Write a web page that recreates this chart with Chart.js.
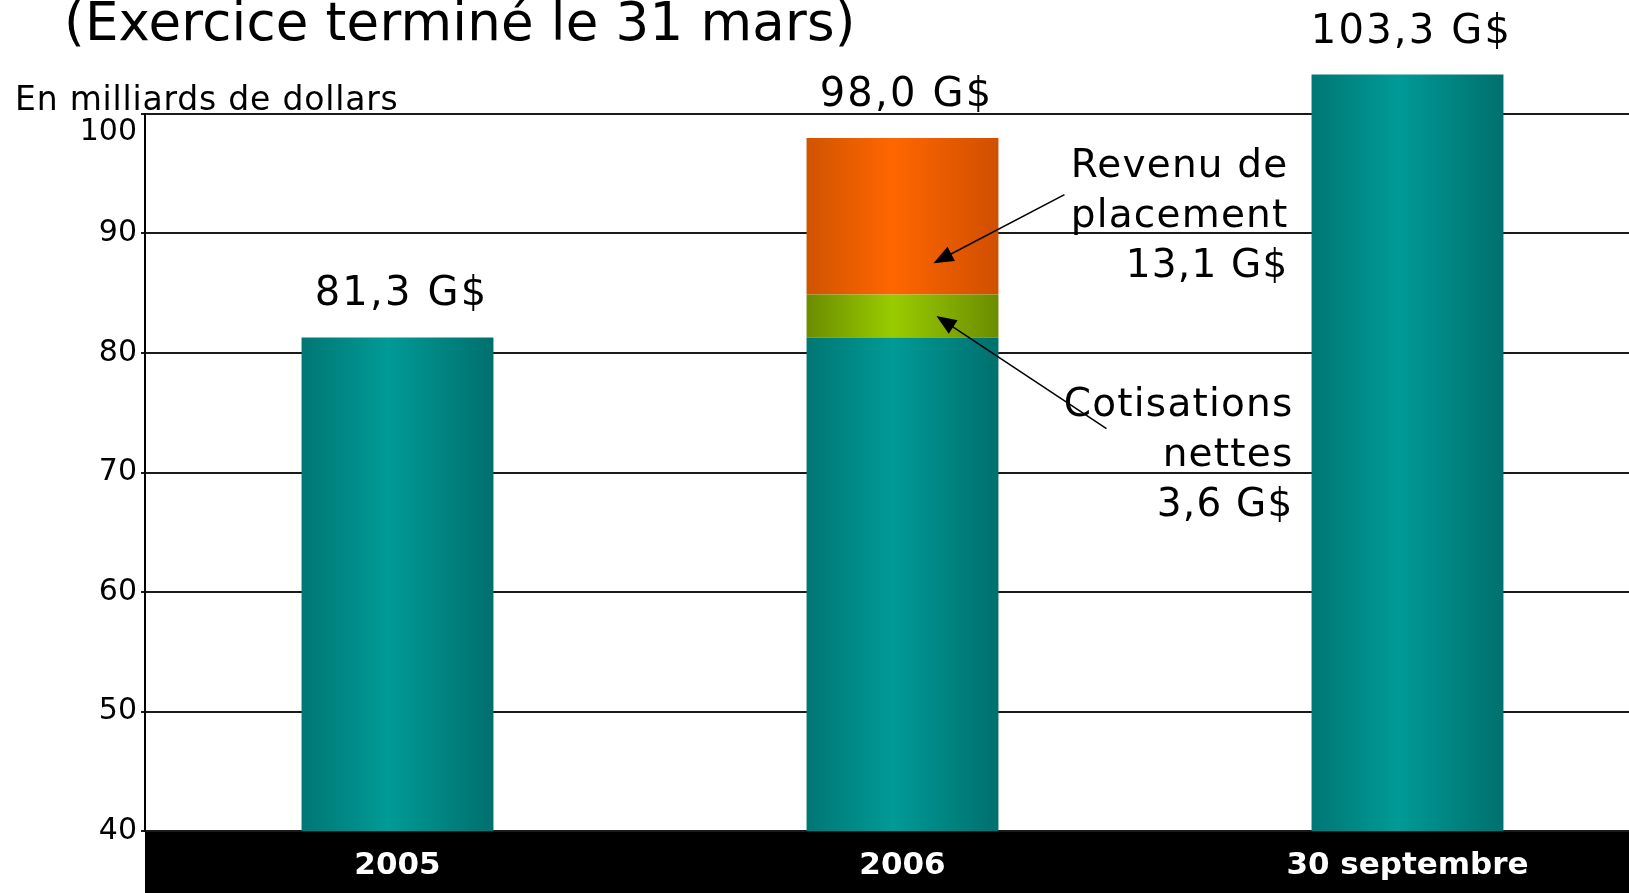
<!DOCTYPE html>
<html lang="fr">
<head>
<meta charset="utf-8">
<title>Actif net</title>
<script src="https://cdn.jsdelivr.net/npm/chart.js@4/dist/chart.umd.min.js"></script>
<style>
	html, body { margin: 0; padding: 0; background: #fff; overflow: hidden; }
	#wrap { position: relative; width: 1660px; height: 893px; }
	.txt { position: absolute; font-family: "DejaVu Sans", sans-serif; color: #000; white-space: nowrap; }
	#title { left: 64px; top: -5px; font-size: 53px; line-height: 53px; letter-spacing: 0.2px; }
	#unit { left: 15px; top: 82px; font-size: 33px; line-height: 33px; letter-spacing: 0.8px; }
	canvas { position: absolute; left: 0; top: 0; }
</style>
</head>
<body>
<div id="wrap">
	<canvas id="chart" width="1660" height="893"></canvas>
	<div class="txt" id="title">(Exercice terminé le 31 mars)</div>
	<div class="txt" id="unit">En milliards de dollars</div>
</div>
<script>
// Data (milliards de dollars)
const categories = ["2005", "2006", "30 septembre"];
const openingAssets = [81.3, 81.3, 103.3];
const netContributions = [null, 3.6, null];
const investmentIncome = [null, 13.1, null];
const yTickRange = [40, 100];
const yTickStep = 10;

const FONT = '"DejaVu Sans", sans-serif';
const BAR_FRACTION = 0.38;

const fmt = (v) => `${v.toFixed(1).replace(".", ",")} G$`;

// horizontal "cylinder" shading across each bar
const barGradient = (stops) => (c) => {
	const chart = c.chart;
	const xs = chart.scales.x;
	if (!chart.chartArea || !xs || c.dataIndex === undefined) return stops[1];
	const cx = xs.getPixelForValue(c.dataIndex);
	const half = (xs.width / categories.length) * BAR_FRACTION / 2;
	const g = chart.ctx.createLinearGradient(cx - half, 0, cx + half, 0);
	g.addColorStop(0, stops[0]);
	g.addColorStop(0.45, stops[1]);
	g.addColorStop(1, stops[2]);
	return g;
};

// black band behind the category labels
const bandPlugin = {
	id: "band",
	beforeDraw(chart) {
		const { ctx, chartArea } = chart;
		ctx.save();
		ctx.fillStyle = "#000";
		ctx.fillRect(chartArea.left, chartArea.bottom, chart.width - chartArea.left, chart.height - chartArea.bottom);
		ctx.restore();
	},
};

const drawArrow = (ctx, x1, y1, x2, y2) => {
	const ang = Math.atan2(y2 - y1, x2 - x1);
	const len = 20, wid = 8;
	ctx.beginPath();
	ctx.moveTo(x1, y1);
	ctx.lineTo(x2 - Math.cos(ang) * len * 0.8, y2 - Math.sin(ang) * len * 0.8);
	ctx.stroke();
	ctx.beginPath();
	ctx.moveTo(x2, y2);
	ctx.lineTo(x2 - Math.cos(ang) * len - Math.sin(ang) * wid, y2 - Math.sin(ang) * len + Math.cos(ang) * wid);
	ctx.lineTo(x2 - Math.cos(ang) * len + Math.sin(ang) * wid, y2 - Math.sin(ang) * len - Math.cos(ang) * wid);
	ctx.closePath();
	ctx.fill();
};

// totals above bars + callouts for the 2006 breakdown
const labelPlugin = {
	id: "labels",
	afterDatasetsDraw(chart) {
		const { ctx } = chart;
		const xs = chart.scales.x;
		const ys = chart.scales.y;
		ctx.save();
		ctx.fillStyle = "#000";
		ctx.strokeStyle = "#000";
		ctx.lineWidth = 1.5;
		ctx.font = `40px ${FONT}`;
		ctx.letterSpacing = "2.2px";
		ctx.textAlign = "center";
		ctx.textBaseline = "alphabetic";
		categories.forEach((_, i) => {
			const total = openingAssets[i] + (netContributions[i] || 0) + (investmentIncome[i] || 0);
			ctx.fillText(fmt(total), xs.getPixelForValue(i) + 4, ys.getPixelForValue(total) - 32);
		});

		const i = 1;
		const cx = xs.getPixelForValue(i);
		ctx.font = `39px ${FONT}`;
		ctx.letterSpacing = "1.2px";
		ctx.textAlign = "right";
		ctx.textBaseline = "middle";

		const revX = cx + 386;
		const revY = ys.getPixelForValue(95.6);
		["Revenu de", "placement", fmt(investmentIncome[i])].forEach((t, k) =>
			ctx.fillText(t, revX, revY + k * 50)
		);
		const revTip = ys.getPixelForValue(openingAssets[i] + netContributions[i] + investmentIncome[i] * 0.2);
		drawArrow(ctx, revX - 224, revY + 28, cx + 31, revTip);

		const cotX = cx + 391;
		const cotY = ys.getPixelForValue(75.6);
		["Cotisations", "nettes", fmt(netContributions[i])].forEach((t, k) =>
			ctx.fillText(t, cotX, cotY + k * 50)
		);
		const cotTip = ys.getPixelForValue(openingAssets[i] + netContributions[i] / 2);
		drawArrow(ctx, cotX - 187, cotY + 23, cx + 34, cotTip);
		ctx.restore();
	},
};

const barClip = { left: 0, right: 0, bottom: 0, top: false };

new Chart(document.getElementById("chart"), {
	type: "bar",
	data: {
		labels: categories,
		datasets: [
			{
				label: "Actif",
				data: openingAssets,
				backgroundColor: barGradient(["#007774", "#009a97", "#00706d"]),
				clip: barClip,
			},
			{
				label: "Cotisations nettes",
				data: netContributions,
				backgroundColor: barGradient(["#6b8c00", "#99cc00", "#6b8c00"]),
				clip: barClip,
			},
			{
				label: "Revenu de placement",
				data: investmentIncome,
				backgroundColor: barGradient(["#d05400", "#ff6600", "#d04f00"]),
				clip: barClip,
			},
		],
	},
	options: {
		responsive: false,
		animation: false,
		layout: { padding: { top: 114, right: 0, bottom: 0, left: 0 } },
		datasets: { bar: { categoryPercentage: 1, barPercentage: BAR_FRACTION } },
		scales: {
			x: {
				stacked: true,
				grid: { display: false, drawTicks: false },
				border: { display: false },
				ticks: { color: "#fff", padding: 16, font: { family: FONT, size: 31, weight: "bold" } },
				afterFit: (s) => { s.height = 62; },
			},
			y: {
				stacked: true,
				min: yTickRange[0],
				max: yTickRange[1],
				ticks: {
					stepSize: yTickStep,
					color: "#000",
					padding: 4,
					font: { family: FONT, size: 30 },
					// top label sits just under the frame line, clear of the unit caption
					callback: (v) => (v === yTickRange[1] ? ["", String(v)] : String(v)),
				},
				grid: { color: "#1a1a1a", lineWidth: 2, tickLength: 4 },
				border: { color: "#000", width: 2 },
				afterFit: (s) => { s.width = 145; },
			},
		},
		plugins: {
			legend: { display: false },
			tooltip: { enabled: false },
		},
	},
	plugins: [bandPlugin, labelPlugin],
});
</script>
</body>
</html>
